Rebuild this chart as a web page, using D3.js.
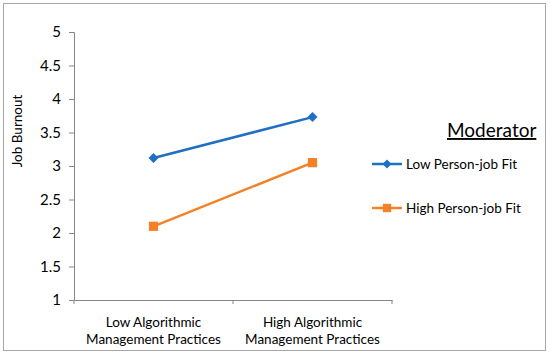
<!DOCTYPE html>
<html><head><meta charset="utf-8">
<script src="https://cdn.jsdelivr.net/npm/d3@7"></script>
<style>body{margin:0;background:#fff}svg{display:block}text{font-family:Lato,"Open Sans",sans-serif;fill:#000}</style>
</head><body><svg id="c" width="550" height="357"></svg>
<script>
const categories = ["Low Algorithmic|Management Practices", "High Algorithmic|Management Practices"];
const seriesNames = ["Low Person-job Fit", "High Person-job Fit"];
const lowFit = [3.12, 3.73];
const highFit = [2.10, 3.05];
const yTicks = [1, 1.5, 2, 2.5, 3, 3.5, 4, 4.5, 5];
const colors = ["#1f6fc5", "#f58025"];

const svg = d3.select("#c");
svg.append("rect").attr("x",3.5).attr("y",3.5).attr("width",542).attr("height",347)
  .attr("fill","#fff").attr("stroke","#a6a6a6").attr("stroke-width",1);

const x0 = 74, x1 = 392, yTop = 32, yBot = 300;
const x = d3.scaleBand().domain(categories).range([x0, x1]);
const y = d3.scaleLinear().domain([1,5]).range([yBot, yTop]);

const yAxis = svg.append("g").attr("transform",`translate(${x0},0)`)
  .call(d3.axisLeft(y).tickValues(yTicks).tickFormat(d3.format("")).tickSize(5).tickPadding(8));
yAxis.select(".domain").attr("stroke","#868686");
yAxis.selectAll(".tick line").attr("stroke","#868686");
yAxis.selectAll("text").attr("font-size",15).attr("font-family","Lato, sans-serif");

const xAxis = svg.append("g").attr("transform",`translate(0,${yBot})`)
  .call(d3.axisBottom(x).tickSize(0).tickFormat(""));
xAxis.select(".domain").attr("stroke","#868686");
xAxis.selectAll(".tick line").remove();
[x0, x0 + x.bandwidth(), x1].forEach(px => {
  svg.append("line").attr("x1",px).attr("x2",px).attr("y1",yBot).attr("y2",yBot+4).attr("stroke","#868686");
});
categories.forEach(c => {
  const lines = c.split("|");
  const t = svg.append("text").attr("text-anchor","middle").attr("font-size",13.5);
  lines.forEach((l,i) => t.append("tspan").attr("x", x(c)+x.bandwidth()/2).attr("y", 327 + i*17).text(l));
});

svg.append("text").attr("transform","translate(22,131) rotate(-90)").attr("text-anchor","middle")
  .attr("font-size",13.5).text("Job Burnout");

const line = d3.line().x((d,i)=>x(categories[i])+x.bandwidth()/2).y(d=>y(d));
const data = [lowFit, highFit];
function marker(k, cx, cy, s) {
  const p = svg.append("path").attr("d", d3.symbol(d3.symbolSquare, s)()).attr("fill", colors[k]);
  p.attr("transform", `translate(${cx},${cy})` + (k===0 ? " rotate(45)" : ""));
}
data.forEach((s,k) => {
  svg.append("path").attr("d", line(s)).attr("fill","none").attr("stroke",colors[k]).attr("stroke-width",2.5);
  s.forEach((v,i) => marker(k, x(categories[i])+x.bandwidth()/2, y(v), k===0 ? 50 : 85));
});

svg.append("text").attr("x",447).attr("y",137).attr("font-size",19).text("Moderator")
  .attr("text-decoration","underline");
const legY = [164, 208];
seriesNames.forEach((n,k) => {
  svg.append("line").attr("x1",372).attr("x2",402).attr("y1",legY[k]).attr("y2",legY[k]).attr("stroke",colors[k]).attr("stroke-width",2.5);
  marker(k, 387, legY[k], k===0 ? 40 : 70);
  svg.append("text").attr("x",406).attr("y",legY[k]+5).attr("font-size",13.5).text(n);
});
</script></body></html>
